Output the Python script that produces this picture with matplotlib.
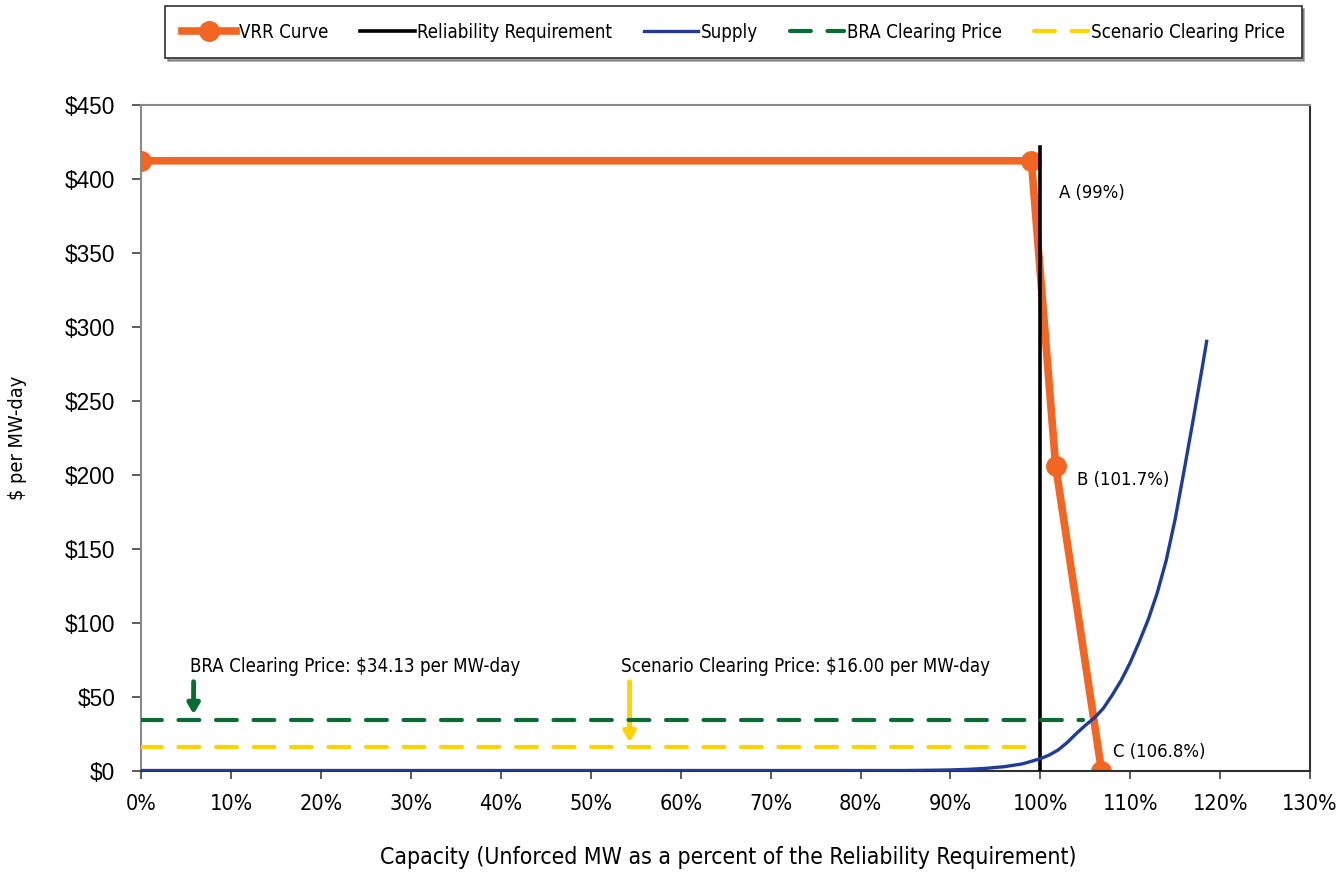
import matplotlib
matplotlib.use('Agg')
import matplotlib.pyplot as plt
from matplotlib import font_manager as fm
from matplotlib.textpath import TextPath
from matplotlib.ticker import FuncFormatter, MultipleLocator

# VRR curve points (capacity %, $/MW-day)
vrr_x = [0, 99.0, 101.7, 106.8]
vrr_y = [412, 412, 206, 0]

# reliability requirement line
rr_x = [100, 100]
rr_y = [0, 421]

supply_x = [0, 80, 85, 88, 90, 92, 94, 96, 98, 100, 101, 102, 103, 104, 105, 106,
            107, 108, 109, 110, 111, 112, 113, 114, 115, 116, 117, 118, 118.5]
supply_y = [0, 0, 0, 0.2, 0.4, 0.8, 1.5, 2.6, 4.5, 8, 10.5, 14, 19, 25, 30.5, 35.5,
            42, 51, 61, 73, 87, 102, 120, 142, 170, 203, 237, 272, 290]

bra_price = 34.13
bra_x = [0, 104.7]
scenario_price = 16.00
scenario_x = [0, 100]

point_labels = ['A (99%)', 'B (101.7%)', 'C (106.8%)']

ORANGE = '#F26522'
BLUE = '#1F3C96'
GREEN = '#0B6B35'
YELLOW = '#FFD200'

REG = fm.FontProperties(family=['Liberation Sans', 'DejaVu Sans'])

# look for a narrow sans face; sizes are scaled so text keeps Liberation Sans widths
narrow_file = None
for f in fm.fontManager.ttflist:
    fn = f.fname.lower()
    if ('narrow' in fn or 'condensed' in fn) and not any(
            k in fn for k in ('bold', 'italic', 'oblique', 'mono', 'serif', 'light')):
        if narrow_file is None or 'liberation' in fn:
            narrow_file = f.fname

k = 1.0
if narrow_file:
    probe = 'Capacity (Unforced MW as a percent of the Reliability Requirement) 100%'
    w_reg = TextPath((0, 0), probe, size=10, prop=REG).get_extents().width
    w_nar = TextPath((0, 0), probe, size=10,
                     prop=fm.FontProperties(fname=narrow_file)).get_extents().width
    k = w_reg / w_nar


def font(size):
    if narrow_file:
        return fm.FontProperties(fname=narrow_file, size=size * k)
    return fm.FontProperties(family=['Liberation Sans', 'DejaVu Sans'], size=size)


def font_reg(size):
    return fm.FontProperties(family=['Liberation Sans', 'DejaVu Sans'], size=size)


fig = plt.figure(figsize=(13.41, 8.77), dpi=100)
ax = fig.add_axes([0.1055, 0.1214, 0.8714, 0.7594])

ax.plot(vrr_x, vrr_y, color=ORANGE, lw=5.5, marker='o', ms=14, zorder=2, label='VRR Curve')
ax.plot(rr_x, rr_y, color='black', lw=2.6, zorder=3, label='Reliability Requirement')
ax.plot(supply_x, supply_y, color=BLUE, lw=2.4, zorder=4, label='Supply')
ax.plot(bra_x, [bra_price] * 2, color=GREEN, lw=3, ls=(0, (5, 4)), dash_capstyle='round',
        zorder=5, label='BRA Clearing Price')
ax.plot(scenario_x, [scenario_price] * 2, color=YELLOW, lw=3, ls=(0, (5, 4)),
        dash_capstyle='round', zorder=5, label='Scenario Clearing Price')

# point labels on the VRR curve
ax.text(102.1, 390, point_labels[0], fontproperties=font(13.4), va='center', ha='left')
ax.text(104.1, 196, point_labels[1], fontproperties=font(13.4), va='center', ha='left')
ax.text(108.1, 12.7, point_labels[2], fontproperties=font(13.4), va='center', ha='left')

# clearing price call-outs
ax.text(5.4, 70, 'BRA Clearing Price: $%.2f per MW-day' % bra_price,
        fontproperties=font(13.6), va='center', ha='left')
ax.annotate('', xy=(5.8, 38), xytext=(5.8, 60),
            arrowprops=dict(arrowstyle='-|>,head_width=0.35,head_length=0.6', lw=3.5,
                            color=GREEN, shrinkA=0, shrinkB=0))
ax.text(53.4, 70, 'Scenario Clearing Price: $%.2f per MW-day' % scenario_price,
        fontproperties=font(13.6), va='center', ha='left')
ax.annotate('', xy=(54.3, 19), xytext=(54.3, 60),
            arrowprops=dict(arrowstyle='-|>,head_width=0.35,head_length=0.6', lw=3.5,
                            color=YELLOW, shrinkA=0, shrinkB=0))

ax.set_xlim(0, 130)
ax.set_ylim(0, 450)
ax.xaxis.set_major_locator(MultipleLocator(10))
ax.yaxis.set_major_locator(MultipleLocator(50))
ax.xaxis.set_major_formatter(FuncFormatter(lambda v, p: '%d%%' % v))
ax.yaxis.set_major_formatter(FuncFormatter(lambda v, p: '$%d' % v))
ax.tick_params(direction='out', width=1.2, colors='#404040', labelcolor='black')
ax.tick_params(axis='x', length=6, pad=11)
ax.tick_params(axis='y', length=6.5, pad=12.5)
for t in ax.get_xticklabels():
    t.set_fontproperties(font(15.8))
for t in ax.get_yticklabels():
    t.set_fontproperties(font_reg(16.3))
for side in ['left', 'top']:
    ax.spines[side].set_color('#8a8a8a')
    ax.spines[side].set_linewidth(1.5)
for side in ['bottom', 'right']:
    ax.spines[side].set_color('#303030')
    ax.spines[side].set_linewidth(1.5)

ax.set_xlabel('Capacity (Unforced MW as a percent of the Reliability Requirement)',
              fontproperties=font(16.7), va='center')
ax.xaxis.set_label_coords(0.502, -0.131)
ax.set_ylabel('$ per MW-day', fontproperties=font(14.5), va='center')
ax.yaxis.set_label_coords(-0.1057, 0.5)

# legend strip across the top; spacing given in points, converted to font units
leg_font = font(13.6)
fs = leg_font.get_size_in_points()
leg = fig.legend(loc='center', bbox_to_anchor=(0.5470, 0.9635), ncol=5, prop=leg_font,
                 frameon=True, fancybox=False, shadow=True,
                 handlelength=39.0 / fs, handletextpad=2.0 / fs,
                 columnspacing=23.0 / fs, borderpad=12.0 / fs, borderaxespad=0)
leg.get_frame().set_edgecolor('#303030')
leg.get_frame().set_linewidth(1.2)

fig.savefig('out.png', dpi=100)
